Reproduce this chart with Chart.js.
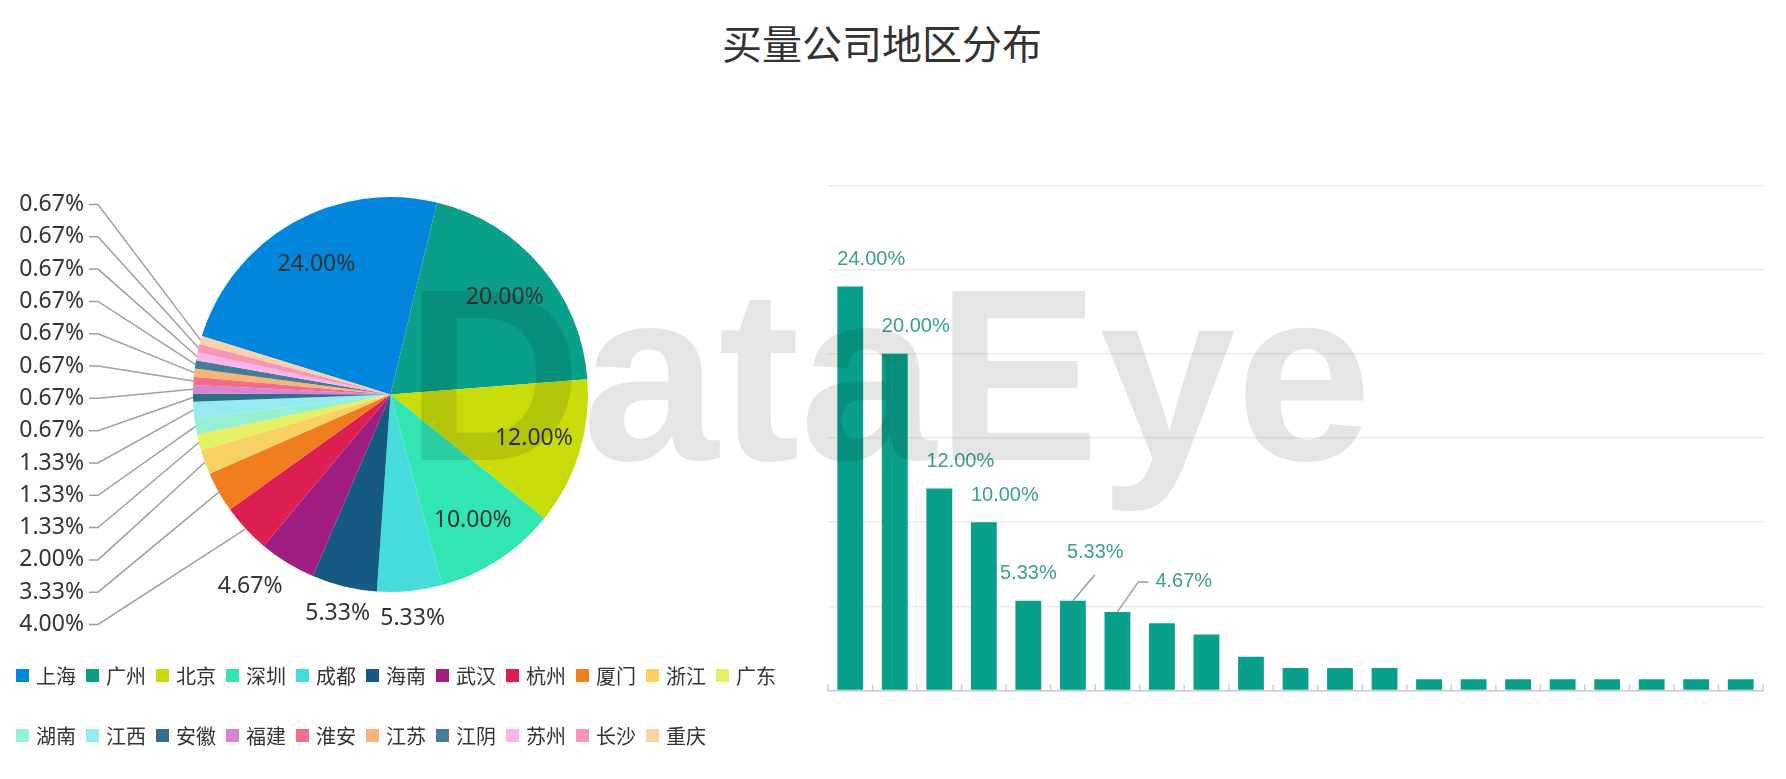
<!DOCTYPE html>
<html>
<head>
<meta charset="utf-8">
<script src="https://cdn.jsdelivr.net/npm/chart.js@4.4.1/dist/chart.umd.min.js"></script>
<style>
  body { margin: 0; background: #fff; width: 1786px; height: 779px; overflow: hidden; position: relative;
         font-family: "Noto Sans CJK SC", "Noto Sans", sans-serif; }
  #title { position: absolute; left: 0; width: 1764px; top: 14px; text-align: center;
           font-size: 40px; line-height: 56px; color: #333; }
  #pieBox { position: absolute; left: 0; top: 100px; width: 800px; height: 560px; }
  #barBox { position: absolute; left: 800px; top: 150px; width: 986px; height: 600px; }
  #legend { position: absolute; left: 16px; top: 645px; width: 780px; display: flex; flex-wrap: wrap; }
  #legend .item { width: 70px; height: 60px; display: flex; align-items: center; font-size: 20px; color: #333; white-space: nowrap; }
  #legend .box { width: 13px; height: 13px; margin-right: 7px; flex: none; }
  #mark { position: absolute; left: 0; top: 0; pointer-events: none; }
</style>
</head>
<body>
<div id="title">买量公司地区分布</div>
<div id="pieBox"><canvas id="pieChart"></canvas></div>
<div id="legend"></div>
<div id="barBox"><canvas id="barChart"></canvas></div>
<canvas id="mark" width="1786" height="779"></canvas>

<script>
// share of buying companies per region, in percent
const regions = ["上海", "广州", "北京", "深圳", "成都", "海南", "武汉", "杭州", "厦门", "浙江", "广东",
                 "湖南", "江西", "安徽", "福建", "淮安", "江苏", "江阴", "苏州", "长沙", "重庆"];
const shares = [24.00, 20.00, 12.00, 10.00, 5.33, 5.33, 4.67, 4.00, 3.33, 2.00, 1.33,
                1.33, 1.33, 0.67, 0.67, 0.67, 0.67, 0.67, 0.67, 0.67, 0.67];
const sliceColors = ["#0086dc", "#09a08a", "#c8dc0a", "#32e6b4", "#46dcdc", "#145a82", "#a01e82",
                     "#dc1e50", "#f07d1e", "#fad264", "#e6f064", "#96f0d2", "#96ebf0", "#326e8c",
                     "#dc82d2", "#f06e8c", "#fab478", "#467d96", "#fab4f0", "#fa96b4", "#fad2aa"];
const barTicks = [0, 5, 10, 15, 20, 25, 30];

const barColor = "#08a08a";
const barLabelColor = "#3ca08c";
const lineGray = "#a0a0a0";

// labels on the pie: inside for big slices, outside + leader lines for small ones
const pieLabels = {
  id: "pieLabels",
  afterDatasetsDraw(chart) {
    const ctx = chart.ctx;
    const arcs = chart.getDatasetMeta(0).data;
    ctx.save();
    ctx.font = '23px "Noto Sans"';
    ctx.fillStyle = "#333";
    ctx.textBaseline = "middle";
    const side = [];
    let cx = 0, cy = 0, r = 0;
    arcs.forEach((arc, i) => {
      const v = shares[i];
      const mid = (arc.startAngle + arc.endAngle) / 2;
      const dx = Math.cos(mid), dy = Math.sin(mid);
      cx = arc.x; cy = arc.y; r = arc.outerRadius;
      const text = v.toFixed(2) + "%";
      const ex = cx + dx * r, ey = cy + dy * r;
      if (v >= 10) {
        ctx.textAlign = "center";
        ctx.fillText(text, cx + dx * r * 0.76, cy + dy * r * 0.76);
      } else if (v > 4.5) {
        const ax = ex + dx * 28, ay = ey + dy * 28;
        if (dx < -0.3) {
          ctx.textAlign = "right";
          ctx.fillText(text, ax + 10, ay);
        } else {
          ctx.textAlign = "center";
          ctx.fillText(text, ax, ay);
        }
      } else {
        side.push({ mid, ex, ey, text });
      }
    });

    side.sort((a, b) => b.mid - a.mid);
    const top = cy - 190, bottom = cy + 230;
    const step = side.length > 1 ? (bottom - top) / (side.length - 1) : 0;
    const elbowX = cx - r - 95;
    ctx.strokeStyle = lineGray;
    ctx.lineWidth = 1.5;
    ctx.textAlign = "right";
    side.forEach((s, k) => {
      const y = top + k * step;
      ctx.beginPath();
      ctx.moveTo(s.ex, s.ey);
      ctx.lineTo(elbowX, y);
      ctx.lineTo(elbowX - 9, y);
      ctx.stroke();
      ctx.fillText(s.text, elbowX - 14, y);
    });
    ctx.restore();
  }
};

// short tick marks pointing up from the category axis
const axisTicks = {
  id: "axisTicks",
  afterDraw(chart) {
    const xs = chart.scales.x;
    const n = regions.length;
    const w = (xs.right - xs.left) / n;
    const ctx = chart.ctx;
    ctx.save();
    ctx.strokeStyle = "#cccccc";
    ctx.lineWidth = 1.5;
    for (let k = 0; k <= n; k++) {
      const x = xs.left + k * w;
      ctx.beginPath();
      ctx.moveTo(x, xs.top);
      ctx.lineTo(x, xs.top - 6);
      ctx.stroke();
    }
    ctx.restore();
  }
};

// value labels over the taller bars, moved aside with a leader line when they collide
const barLabels = {
  id: "barLabels",
  afterDatasetsDraw(chart) {
    const ctx = chart.ctx;
    const bars = chart.getDatasetMeta(0).data;
    ctx.save();
    ctx.font = '20px "Liberation Sans"';
    ctx.textBaseline = "middle";
    ctx.textAlign = "left";
    const items = [];
    bars.forEach((bar, i) => {
      if (shares[i] < 4.5) return;
      const text = shares[i].toFixed(2) + "%";
      const w = ctx.measureText(text).width;
      const half = bar.width / 2;
      let left = bar.x - w / 2;
      const cy = bar.y - 27;
      const prev = bars[i - 1];
      if (left < chart.chartArea.left) left = bar.x - half;
      if (prev && left < prev.x + prev.width / 2 && cy + 10 > prev.y) left = bar.x - half;
      items.push({ bar, text, w, left, cy });
    });
    const natural = items.map(it => ({ left: it.left, cy: it.cy, w: it.w }));
    const hit = (a, b) => a.left < b.left + b.w && b.left < a.left + a.w && Math.abs(a.cy - b.cy) < 20;

    ctx.strokeStyle = lineGray;
    ctx.lineWidth = 1.5;
    items.forEach((it, k) => {
      if (k > 0 && hit(natural[k], natural[k - 1])) {
        const b = it.bar;
        let ex = b.x + 21, ey = b.y - 30;
        let box = { left: ex + 17, cy: ey, w: it.w };
        const next = natural[k + 1];
        ctx.beginPath();
        ctx.moveTo(b.x, b.y);
        if (next && hit(box, next)) {
          ex = b.x + 22; ey = b.y - 26;
          ctx.lineTo(ex, ey);
          box = { left: ex - 28, cy: ey - 22, w: it.w };
        } else {
          ctx.lineTo(ex, ey);
          ctx.lineTo(ex + 10, ey);
        }
        ctx.stroke();
        it.left = box.left; it.cy = box.cy;
      }
      ctx.fillStyle = barLabelColor;
      ctx.fillText(it.text, it.left, it.cy);
    });
    ctx.restore();
  }
};

const pieChart = new Chart(document.getElementById("pieChart").getContext("2d"), {
  type: "pie",
  data: {
    labels: regions,
    datasets: [{ data: shares, backgroundColor: sliceColors, borderWidth: 0 }]
  },
  options: {
    responsive: true,
    maintainAspectRatio: false,
    animation: false,
    rotation: -72.8,
    layout: { padding: { left: 193, top: 97, right: 212, bottom: 68 } },
    plugins: { legend: { display: false }, tooltip: { enabled: false } }
  },
  plugins: [pieLabels]
});

// html legend, two rows under the pie
const legendEl = document.getElementById("legend");
pieChart.options.plugins.legend.labels.generateLabels(pieChart).forEach(item => {
  const div = document.createElement("div");
  div.className = "item";
  div.innerHTML = '<span class="box" style="background:' + item.fillStyle + '"></span>' + item.text;
  legendEl.appendChild(div);
});

new Chart(document.getElementById("barChart").getContext("2d"), {
  type: "bar",
  data: {
    labels: regions,
    datasets: [{ data: shares, backgroundColor: barColor, barPercentage: 0.58, categoryPercentage: 1 }]
  },
  options: {
    responsive: true,
    maintainAspectRatio: false,
    animation: false,
    layout: { padding: { left: 28, right: 23, top: 35.5, bottom: 59.5 } },
    scales: {
      x: {
        grid: { display: false, drawTicks: false },
        border: { color: "#cccccc", width: 1.5 },
        ticks: { display: false }
      },
      y: {
        min: barTicks[0],
        max: barTicks[barTicks.length - 1],
        afterBuildTicks: axis => { axis.ticks = barTicks.map(v => ({ value: v })); },
        ticks: { display: false },
        grid: { color: "#ebebeb", lineWidth: 1.5, drawTicks: false },
        border: { display: false }
      }
    },
    plugins: { legend: { display: false }, tooltip: { enabled: false } }
  },
  plugins: [axisTicks, barLabels]
});

// faint DataEye watermark across both charts
const mctx = document.getElementById("mark").getContext("2d");
mctx.font = 'bold 245px "Liberation Sans"';
mctx.fillStyle = "rgba(0,0,0,0.1)";
mctx.textBaseline = "alphabetic";
mctx.fillText("DataEye", 405, 460);
</script>
</body>
</html>
